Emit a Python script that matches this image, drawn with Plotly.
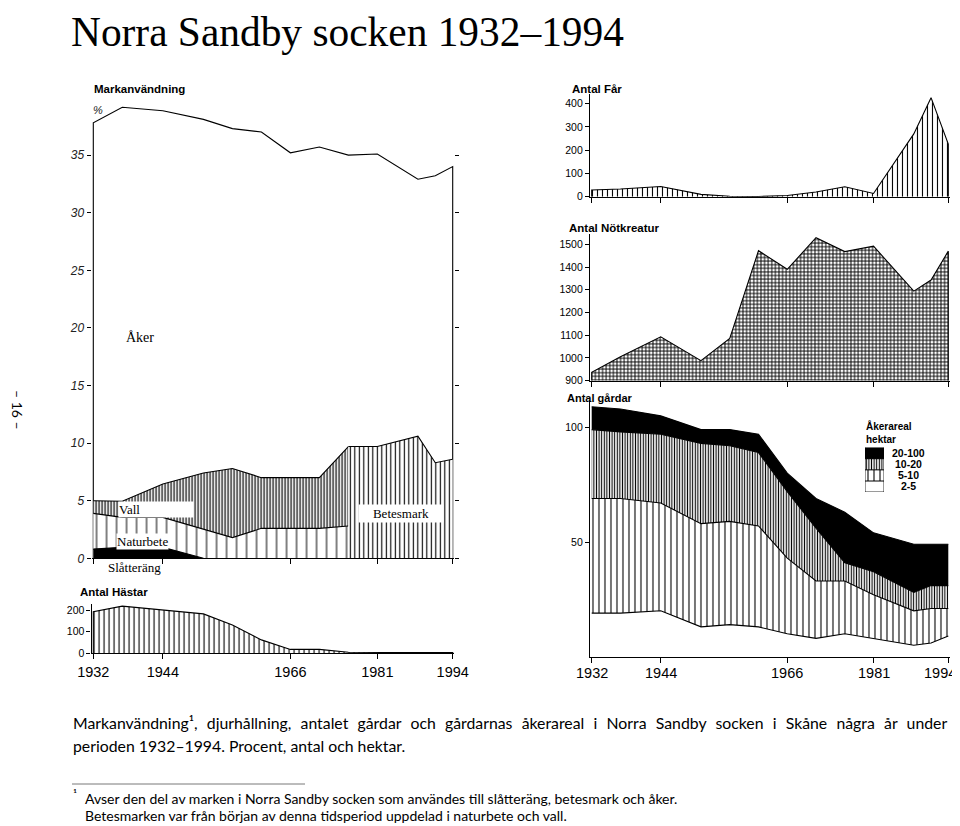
import plotly.graph_objects as go

W, H = 960, 826
OFF = 8  # the page places the figure 8 px in from the window's top-left corner

# ---------------- data ----------------
years = [1932, 1937, 1944, 1951, 1956, 1961, 1966, 1971, 1976, 1981, 1988, 1991, 1994]
tick_years = [1932, 1944, 1966, 1981, 1994]

# Markanvändning, procent (layer thicknesses)
slatterang = [0.8, 0.95, 0.95, 0.0, None, None, None, None, None, None, None, None, None]
naturbete = [3.1, 2.6, 2.6, 2.5, 1.8, 2.6, 2.6, 2.6, 2.8, None, None, None, None]
vall = [1.1, 1.4, 2.9, 4.9, 6.0, 4.4, 4.4, 4.4, 6.9, None, None, None, None]
betesmark = [None, None, None, None, None, None, None, None, 9.7, 9.7, 10.6, 8.3, 8.6]
aker = [32.8, 34.2, 32.4, 30.7, 29.5, 30.0, 28.2, 28.7, 25.3, 25.4, 22.3, 24.9, 25.4]

# Djurhållning, antal
hastar = [192, 218, 200, 182, 131, 62, 18, 18, 5, 3, 3, 3, 3]
far = [29, 33, 44, 10, 2, 1, 5, 20, 43, 14, 270, 426, 226]
notkreatur = [937, 1005, 1093, 988, 1086, 1472, 1390, 1529, 1468, 1492, 1294, 1343, 1470]

# Antal gårdar efter åkerareal (hektar)
farm_classes = ["2-5", "5-10", "10-20", "20-100"]
gardar_2_5 = [19, 19, 20, 13, 14, 13, 10, 8, 10, 8, 5, 6, 9]
gardar_5_10 = [50, 50, 47, 45, 45, 44, 33, 25, 23, 19, 15, 15, 12]
gardar_10_20 = [30, 29, 30, 35, 33, 32, 29, 23, 8, 10, 8, 10, 10]
gardar_20_100 = [10, 10, 8, 6, 7, 8, 8, 13, 22, 17, 21, 18, 18]

# ---------------- helpers ----------------
def pxx(p):
    return (p - OFF) / W


def pxy(p):
    return 1 - (p - OFF) / H


BLACK = "black"
LINE = dict(color=BLACK, width=1.1)


def pat(shape, size, solidity):
    return dict(shape=shape, size=size, solidity=solidity, fgcolor=BLACK,
                bgcolor="white", fillmode="replace")


P_VALL = pat("|", 3, 0.4)
P_NATUR = pat("|", 10, 0.1)
P_BETES = pat("|", 4.5, 0.25)
P_HAST = pat("|", 5, 0.22)
P_FAR = pat("|", 5, 0.22)
P_NOT = pat("+", 3.6, 0.45)
P_5_10 = pat("|", 6, 0.18)
P_10_20 = pat("|", 2.6, 0.42)

farm_style = {
    "2-5": dict(fillcolor="white"),
    "5-10": dict(fillpattern=P_5_10),
    "10-20": dict(fillpattern=P_10_20),
    "20-100": dict(fillcolor=BLACK),
}
farm_values = {"2-5": gardar_2_5, "5-10": gardar_5_10,
               "10-20": gardar_10_20, "20-100": gardar_20_100}

# cumulative land-use boundaries
n = len(years)
slat0 = [v if v is not None else 0 for v in slatterang]
nat_top, vall_top, bete_top = [], [], []
for i in range(n):
    if naturbete[i] is not None:
        nt = slat0[i] + naturbete[i]
        vt = nt + vall[i]
        nat_top.append(nt)
        vall_top.append(vt)
        bete_top.append(vt if betesmark[i] is None else betesmark[i])
    else:
        nat_top.append(None)
        vall_top.append(None)
        bete_top.append(betesmark[i])
total = [bete_top[i] + aker[i] for i in range(n)]

pre = [i for i in range(n) if naturbete[i] is not None]
post = [i for i in range(n) if betesmark[i] is not None]
sl = [i for i in range(n) if slatterang[i] is not None]

fig = go.Figure()

# ---- Markanvändning (x / y)
fig.add_trace(go.Scatter(x=[years[0]] + years + [years[-1]], y=[0] + total + [0],
                         fill="toself", fillcolor="white", line=LINE, mode="lines",
                         xaxis="x", yaxis="y", hoverinfo="skip"))
fig.add_trace(go.Scatter(x=[years[i] for i in pre], y=[nat_top[i] for i in pre],
                         fill="tozeroy", fillpattern=P_NATUR, line=LINE, mode="lines",
                         xaxis="x", yaxis="y"))
fig.add_trace(go.Scatter(x=[years[i] for i in pre], y=[vall_top[i] for i in pre],
                         fill="tonexty", fillpattern=P_VALL, line=LINE, mode="lines",
                         xaxis="x", yaxis="y"))
fig.add_trace(go.Scatter(x=[years[i] for i in post], y=[betesmark[i] for i in post],
                         fill="tozeroy", fillpattern=P_BETES, line=LINE, mode="lines",
                         xaxis="x", yaxis="y"))
fig.add_trace(go.Scatter(x=[years[i] for i in sl], y=[slatterang[i] for i in sl],
                         fill="tozeroy", fillcolor=BLACK, line=LINE, mode="lines",
                         xaxis="x", yaxis="y"))

# ---- Hästar (x2 / y2)
fig.add_trace(go.Scatter(x=[years[0]] + years + [years[-1]], y=[0] + hastar + [0],
                         fill="toself", fillpattern=P_HAST, line=LINE, mode="lines",
                         xaxis="x2", yaxis="y2"))

# ---- Får (x3 / y3)
fig.add_trace(go.Scatter(x=[years[0]] + years + [years[-1]], y=[0] + far + [0],
                         fill="toself", fillpattern=P_FAR, line=LINE, mode="lines",
                         xaxis="x3", yaxis="y3"))

# ---- Nötkreatur (x4 / y4)
NOT_MIN, NOT_MAX = 900, 1545
fig.add_trace(go.Scatter(x=[years[0]] + years + [years[-1]],
                         y=[NOT_MIN] + notkreatur + [NOT_MIN],
                         fill="toself", fillpattern=P_NOT, line=LINE, mode="lines",
                         xaxis="x4", yaxis="y4"))

# ---- Gårdar (x5 / y5), stacked
for cls in farm_classes:
    fig.add_trace(go.Scatter(x=years, y=farm_values[cls], stackgroup="g",
                             line=LINE, mode="lines", name=cls,
                             xaxis="x5", yaxis="y5", **farm_style[cls]))

# ---- legend swatches (x6 / y6)
for i, cls in enumerate(farm_classes):
    fig.add_trace(go.Scatter(x=[0, 1, 1, 0, 0], y=[i, i, i + 1, i + 1, i],
                             fill="toself", line=dict(color=BLACK, width=0.8),
                             mode="lines", xaxis="x6", yaxis="y6", **farm_style[cls]))

# ---------------- axes ----------------
XR = [1931.7, 1994.3]
LEFT_X = [pxx(91.56), pxx(454.44)]
RIGHT_X = [pxx(589.97), pxx(950.03)]
TICKFONT_SMALL = dict(family="Liberation Sans", size=10.5, color=BLACK)
YEARFONT = dict(family="Liberation Sans", size=14.5, color=BLACK)


def xax(domain, anchor, labels):
    return dict(domain=domain, anchor=anchor, range=XR, tickmode="array",
                tickvals=tick_years, ticktext=[str(t) for t in tick_years],
                showticklabels=labels, ticks="outside", ticklen=5, tickwidth=1,
                tickcolor=BLACK, showline=True, linecolor=BLACK, linewidth=1.2,
                showgrid=False, zeroline=False, automargin=False, tickfont=YEARFONT)


def yax(domain, anchor, rng, tickvals, font=TICKFONT_SMALL, showline=True, mirror=False):
    return dict(domain=domain, anchor=anchor, range=rng, tickmode="array",
                tickvals=tickvals, ticks="outside", ticklen=4, tickwidth=1,
                tickcolor=BLACK, showline=showline, linecolor=BLACK, linewidth=1.2,
                showgrid=False, zeroline=False, tickfont=font, mirror=mirror,
                automargin=False)


LAND_BOTTOM, LAND_TOP = 558.3, 97.5
FARM_BOTTOM, FARM_TOP = 656.7, 399.8
LEG_BOTTOM, LEG_TOP = 492.0, 447.5

layout = dict(
    width=W, height=H, autosize=False,
    margin=dict(l=0, r=0, t=0, b=0, pad=0, autoexpand=False),
    paper_bgcolor="white", plot_bgcolor="rgba(0,0,0,0)",
    showlegend=False,
    xaxis=xax(LEFT_X, "y", False),
    yaxis=yax([pxy(LAND_BOTTOM), pxy(LAND_TOP)], "x", [0, 40], [0, 5, 10, 15, 20, 25, 30, 35],
              font=dict(family="Liberation Sans", size=12, color="#222", style="italic"),
              showline=False, mirror="ticks"),
    xaxis2=xax(LEFT_X, "y2", True),
    yaxis2=yax([pxy(653.3), pxy(603.5)], "x2", [0, 230], [0, 100, 200]),
    xaxis3=xax(RIGHT_X, "y3", False),
    yaxis3=yax([pxy(196.7), pxy(94.4)], "x3", [0, 440], [0, 100, 200, 300, 400]),
    xaxis4=xax(RIGHT_X, "y4", False),
    yaxis4=yax([pxy(380.7), pxy(234.1)], "x4", [NOT_MIN, NOT_MAX],
               [900, 1000, 1100, 1200, 1300, 1400, 1500]),
    xaxis5=xax(RIGHT_X, "y5", False),
    yaxis5=yax([pxy(FARM_BOTTOM), pxy(FARM_TOP)], "x5", [0, 112], [50, 100]),
    xaxis6=dict(domain=[pxx(865), pxx(884)], anchor="y6", range=[0, 1], visible=False,
                fixedrange=True, automargin=False),
    yaxis6=dict(domain=[pxy(LEG_BOTTOM), pxy(LEG_TOP)], anchor="x6", range=[0, 4],
                visible=False, fixedrange=True, automargin=False),
)
fig.update_layout(**layout)

# ---------------- texts ----------------
ann = []


def text(t, x, y, size, family="Liberation Sans", xanchor="left", yanchor="middle",
         weight="normal", style="normal", color=BLACK, **kw):
    ann.append(dict(text=t, x=pxx(x), y=pxy(y), xref="paper", yref="paper",
                    xanchor=xanchor, yanchor=yanchor, showarrow=False,
                    font=dict(family=family, size=size, color=color, weight=weight,
                              style=style), **kw))


text("Norra Sandby socken 1932–1994", 70, OFF, 41.4, family="Liberation Serif",
     yanchor="top", borderpad=0)
text("– 16 –", 18, 410, 14, family="Lato", xanchor="center", textangle=90, borderpad=0)

text("Markanvändning", 92, 89, 11.5, weight="bold")
text("%", 91, 110, 11, style="italic", color="#222")
text("Antal Hästar", 78, 592, 11.5, weight="bold")
text("Antal Får", 570, 89, 11.5, weight="bold")
text("Antal Nötkreatur", 567, 228, 11.5, weight="bold")
text("Antal gårdar", 565, 398, 11, weight="bold")

text("Åker", 124, 337, 14, family="Liberation Serif")
text("Vall", 118, 509, 13, family="Liberation Serif", bgcolor="white", width=74,
     align="left", borderpad=0)
text("Betesmark", 358, 513, 13, family="Liberation Serif", bgcolor="white", width=82,
     align="center", borderpad=1)
text("Naturbete", 116, 541, 13, family="Liberation Serif", bgcolor="white",
     borderpad=0)
text("Slåtteräng", 106, 567, 13, family="Liberation Serif")

# year labels under the farm panel (last one kept inside the page)
for t in tick_years:
    last = t == tick_years[-1]
    ann.append(dict(text=str(t), x=t, xref="x5", y=pxy(673), yref="paper",
                    xanchor="right" if last else "center", xshift=10 if last else 0,
                    yanchor="middle", showarrow=False, font=YEARFONT))

# legend
text("Åkerareal<br>hektar", 864, 432, 10, weight="bold", align="left")
leg_step = (LEG_BOTTOM - LEG_TOP) / len(farm_classes)
for i, cls in enumerate(farm_classes):
    text(cls, 908, LEG_BOTTOM - (i + 0.5) * leg_step, 10.5, xanchor="center",
         weight="bold")

text('<span style="word-spacing:5.2px">Markanvändning¹, djurhållning, antalet gårdar '
     'och gårdarnas åkerareal i Norra Sandby socken i Skåne några år under</span>',
     71, 722, 15.8, family="Lato")
text("perioden 1932–1994. Procent, antal och hektar.", 71, 745, 15.8, family="Lato")
text("¹", 71, 794, 12, family="Lato")
text("Avser den del av marken i Norra Sandby socken som användes till slåtteräng, "
     "betesmark och åker.", 83, 798, 14, family="Lato")
text("Betesmarken var från början av denna tidsperiod uppdelad i naturbete och vall.",
     83, 815, 14, family="Lato")

fig.update_layout(annotations=ann)
fig.add_shape(type="line", xref="paper", yref="paper", x0=pxx(72), x1=pxx(305),
              y0=pxy(784), y1=pxy(784), line=dict(color="#555", width=0.8))

fig.write_html("out.html")
